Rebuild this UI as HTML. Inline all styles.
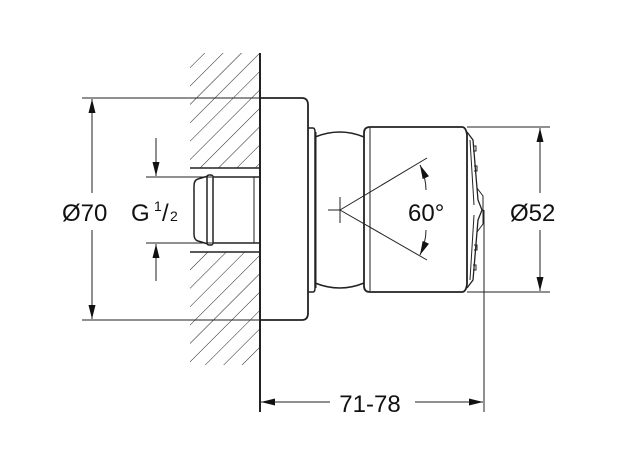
<!DOCTYPE html>
<html><head><style>body{margin:0;background:#fff}svg{display:block}text{font-family:"Liberation Sans",sans-serif;fill:#111}</style></head>
<body>
<svg width="633" height="474" viewBox="0 0 633 474" xmlns="http://www.w3.org/2000/svg">
<defs>
<pattern id="h" width="13" height="13" patternUnits="userSpaceOnUse" patternTransform="rotate(45)">
<line x1="0" y1="0" x2="0" y2="13" stroke="#222" stroke-width="1"/>
</pattern>
<marker id="a" viewBox="0 0 14 7" refX="14" refY="3.5" markerWidth="14" markerHeight="7" markerUnits="userSpaceOnUse" orient="auto-start-reverse"><path d="M0,0L14,3.5L0,7z" fill="#111"/></marker>
</defs>
<g stroke="#222" fill="none">
<rect x="190" y="53" width="70" height="115" fill="url(#h)" stroke="none"/>
<rect x="190" y="252" width="70" height="113" fill="url(#h)" stroke="none"/>
<line x1="260" y1="53" x2="260" y2="412" stroke-width="2"/>
<line x1="190" y1="168" x2="260" y2="168" stroke-width="1.5"/>
<line x1="190" y1="252" x2="260" y2="252" stroke-width="1.5"/>
<path d="M260,177 H212 M260,243 H212 M208,176 L198,179 Q194,180 194,186 V234 Q194,240 198,241 L208,244" stroke-width="1.5"/>
<rect x="207" y="175" width="6" height="70" rx="2" stroke-width="1.5" fill="#fff"/>
<line x1="254" y1="177" x2="254" y2="243" stroke-width="1"/>
<path d="M260,98 H302 Q308,98 308,105 V313 Q308,320 302,320 H260" stroke-width="1.8"/>
<path d="M308,128 H313 Q315,128 315,132 V288 Q315,292 313,292 H308" stroke-width="1.5"/>
<path d="M315,137 Q340,127 364,137 M315,283 Q340,293 364,283" stroke-width="1.5"/>
<line x1="316" y1="132" x2="316" y2="288" stroke-width="1"/>
<path d="M364,133 Q364,127 370,127 H462 Q466,127 467,135 V284 Q466,292 462,292 H370 Q364,292 364,286 Z" stroke-width="1.8"/>
<line x1="370" y1="128" x2="370" y2="291" stroke-width="1"/>
<path d="M467,132 L473,140 L478,200 L482,210 L478,220 L473,280 L467,288" stroke-width="1.3"/>
<path d="M470,140 L474,205 M470,280 L474,215" stroke-width="1"/>
<path d="M473,146 h3 v5 h-3 M474,166 h3 v5 h-3 M474,245 h3 v5 h-3 M473,265 h3 v5 h-3" stroke-width="1"/>
<path d="M477,188 L483,196 L483,224 L477,232" stroke-width="1"/>
<path d="M328,210 H340 M340,197 V223" stroke-width="1"/>
<path d="M340,210 L427,158 M340,210 L427,260" stroke-width="1"/>
<path d="M420,165 Q426,178 426,190" stroke-width="1" marker-start="url(#a)"/>
<path d="M420,255 Q426,242 426,230" stroke-width="1" marker-start="url(#a)"/>
<path d="M82,98 H260 M82,320 H260" stroke-width="1"/>
<line x1="92" y1="99" x2="92" y2="193" stroke-width="1" marker-start="url(#a)"/>
<line x1="92" y1="319" x2="92" y2="230" stroke-width="1" marker-start="url(#a)"/>
<path d="M146,177 H212 M146,243 H212" stroke-width="1"/>
<line x1="156" y1="176" x2="156" y2="138" stroke-width="1" marker-start="url(#a)"/>
<line x1="156" y1="244" x2="156" y2="281" stroke-width="1" marker-start="url(#a)"/>
<path d="M467,127 H550 M467,292 H550" stroke-width="1"/>
<line x1="540" y1="128" x2="540" y2="193" stroke-width="1" marker-start="url(#a)"/>
<line x1="540" y1="291" x2="540" y2="230" stroke-width="1" marker-start="url(#a)"/>
<line x1="484" y1="210" x2="484" y2="412" stroke-width="1"/>
<line x1="261" y1="402" x2="330" y2="402" stroke-width="1" marker-start="url(#a)"/>
<line x1="483" y1="402" x2="415" y2="402" stroke-width="1" marker-start="url(#a)"/>
</g>
<text x="62" y="221" font-size="24">Ø70</text>
<text x="131" y="221" font-size="24">G</text>
<text x="154" y="211" font-size="14">1</text>
<text x="162" y="221" font-size="24">/</text>
<text x="170" y="221" font-size="14">2</text>
<text x="408" y="221" font-size="24">60°</text>
<text x="510" y="221" font-size="24">Ø52</text>
<text x="370" y="412" font-size="24" text-anchor="middle">71-78</text>
</svg>
</body></html>
